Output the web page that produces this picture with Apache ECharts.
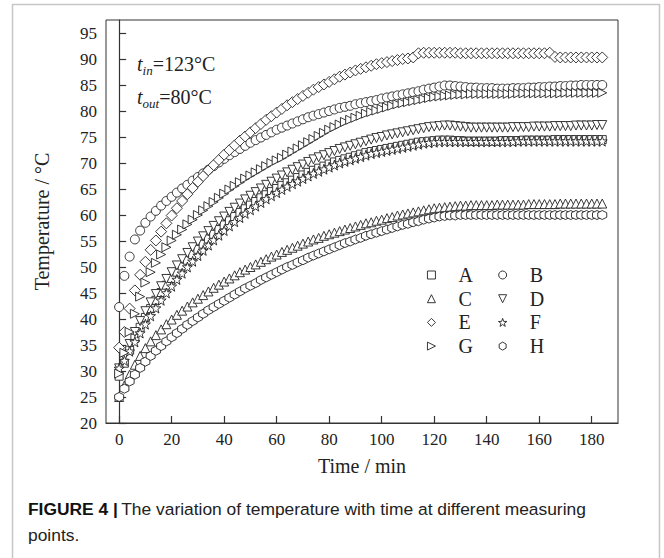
<!DOCTYPE html>
<html>
<head>
<meta charset="utf-8">
<script src="https://cdn.jsdelivr.net/npm/echarts@6/dist/echarts.min.js"></script>
<style>
  html, body { margin: 0; padding: 0; background: #fff; }
  #main { width: 664px; height: 558px; }
</style>
</head>
<body>
<div id="main"></div>
<script>
// sample times (min), one reading every 2 min
const minutes = [
  0, 2, 4, 6, 8, 10, 12, 14, 16, 18, 20, 22, 24, 26, 28, 30, 32, 34, 36, 38,
  40, 42, 44, 46, 48, 50, 52, 54, 56, 58, 60, 62, 64, 66, 68, 70, 72, 74, 76, 78,
  80, 82, 84, 86, 88, 90, 92, 94, 96, 98, 100, 102, 104, 106, 108, 110, 112, 114, 116, 118,
  120, 122, 124, 126, 128, 130, 132, 134, 136, 138, 140, 142, 144, 146, 148, 150, 152, 154, 156, 158,
  160, 162, 164, 166, 168, 170, 172, 174, 176, 178, 180, 182, 184,
];

// temperatures (°C) at the measuring points A..H
const pointA = [
  29.0, 31.5, 34.0, 36.3, 38.4, 40.3, 42.0, 43.6, 45.1, 46.5,
  47.8, 49.0, 50.2, 51.3, 52.4, 53.4, 54.4, 55.4, 56.3, 57.2,
  58.1, 58.9, 59.7, 60.5, 61.2, 61.9, 62.6, 63.3, 63.9, 64.5,
  65.1, 65.7, 66.2, 66.7, 67.2, 67.7, 68.2, 68.6, 69.0, 69.4,
  69.8, 70.2, 70.5, 70.8, 71.1, 71.4, 71.7, 72.0, 72.2, 72.4,
  72.6, 72.8, 73.0, 73.2, 73.4, 73.6, 73.8, 74.0, 74.1, 74.2,
  74.3, 74.4, 74.4, 74.4, 74.3, 74.3, 74.2, 74.2, 74.2, 74.2,
  74.2, 74.2, 74.2, 74.3, 74.3, 74.3, 74.3, 74.4, 74.4, 74.4,
  74.4, 74.4, 74.4, 74.5, 74.5, 74.5, 74.5, 74.5, 74.5, 74.5,
  74.5, 74.5, 74.5,
];
const pointB = [
  42.3, 48.3, 52.0, 55.3, 57.0, 58.5, 59.7, 60.8, 61.8, 62.7,
  63.5, 64.3, 65.1, 65.8, 66.6, 67.3, 68.0, 68.7, 69.4, 70.1,
  70.8, 71.5, 72.1, 72.7, 73.3, 73.9, 74.4, 74.9, 75.4, 75.9,
  76.4, 76.8, 77.2, 77.6, 78.0, 78.4, 78.8, 79.1, 79.4, 79.7,
  80.0, 80.3, 80.6, 80.8, 81.0, 81.3, 81.5, 81.7, 81.9, 82.1,
  82.4, 82.6, 82.8, 83.0, 83.2, 83.4, 83.6, 83.8, 84.1, 84.3,
  84.5, 84.7, 84.9, 84.9, 84.8, 84.7, 84.6, 84.5, 84.5, 84.4,
  84.4, 84.4, 84.3, 84.3, 84.3, 84.4, 84.4, 84.4, 84.5, 84.5,
  84.6, 84.6, 84.7, 84.7, 84.8, 84.8, 84.9, 84.9, 85.0, 85.0,
  85.0, 85.0, 85.0,
];
const pointC = [
  25.0, 27.2, 29.3, 31.2, 32.9, 34.4, 35.7, 36.9, 38.0, 39.0,
  39.9, 40.8, 41.6, 42.4, 43.2, 43.9, 44.6, 45.3, 46.0, 46.6,
  47.2, 47.8, 48.4, 49.0, 49.5, 50.0, 50.5, 51.0, 51.5, 52.0,
  52.4, 52.9, 53.3, 53.7, 54.1, 54.5, 54.9, 55.3, 55.6, 56.0,
  56.3, 56.6, 56.9, 57.2, 57.5, 57.8, 58.1, 58.4, 58.6, 58.9,
  59.1, 59.4, 59.6, 59.9, 60.1, 60.3, 60.5, 60.7, 60.9, 61.1,
  61.3, 61.4, 61.5, 61.6, 61.7, 61.8, 61.8, 61.9, 61.9, 61.9,
  61.9, 61.9, 62.0, 62.0, 62.0, 62.0, 62.0, 62.0, 62.1, 62.1,
  62.1, 62.1, 62.1, 62.1, 62.2, 62.2, 62.2, 62.2, 62.2, 62.2,
  62.2, 62.2, 62.2,
];
const pointD = [
  30.5, 32.8, 35.2, 37.5, 39.6, 41.5, 43.2, 44.8, 46.3, 47.7,
  49.0, 50.3, 51.5, 52.7, 53.8, 54.9, 55.9, 56.9, 57.9, 58.8,
  59.7, 60.6, 61.4, 62.2, 63.0, 63.7, 64.4, 65.1, 65.8, 66.4,
  67.0, 67.6, 68.2, 68.7, 69.2, 69.7, 70.2, 70.7, 71.1, 71.5,
  71.9, 72.3, 72.7, 73.0, 73.3, 73.6, 73.9, 74.2, 74.5, 74.8,
  75.0, 75.3, 75.5, 75.7, 75.9, 76.1, 76.3, 76.5, 76.7, 76.9,
  77.0, 77.1, 77.2, 77.2, 77.1, 77.0, 76.9, 76.8, 76.8, 76.8,
  76.8, 76.8, 76.8, 76.8, 76.8, 76.9, 76.9, 76.9, 76.9, 77.0,
  77.0, 77.0, 77.0, 77.1, 77.1, 77.1, 77.1, 77.2, 77.2, 77.2,
  77.2, 77.3, 77.3,
];
const pointE = [
  34.5, 37.5, 42.0, 45.5, 48.5, 51.0, 53.3, 55.1, 56.8, 58.4,
  59.9, 61.3, 62.7, 64.0, 65.2, 66.4, 67.5, 68.6, 69.6, 70.6,
  71.6, 72.5, 73.4, 74.3, 75.1, 75.9, 76.7, 77.5, 78.3, 79.0,
  79.7, 80.4, 81.1, 81.7, 82.3, 82.9, 83.5, 84.1, 84.6, 85.1,
  85.6, 86.1, 86.6, 87.0, 87.4, 87.8, 88.1, 88.4, 88.7, 89.0,
  89.2, 89.4, 89.6, 89.8, 90.0, 90.1, 90.3, 91.1, 91.2, 91.2,
  91.2, 91.2, 91.2, 91.2, 91.2, 91.1, 91.1, 91.1, 91.1, 91.1,
  91.1, 91.1, 91.1, 91.1, 91.1, 91.1, 91.1, 91.1, 91.1, 91.1,
  91.1, 91.1, 91.2, 90.4, 90.3, 90.3, 90.3, 90.3, 90.3, 90.3,
  90.3, 90.3, 90.3,
];
const pointF = [
  30.5, 32.0, 33.8, 35.6, 37.3, 39.0, 40.6, 42.1, 43.6, 45.0,
  46.3, 47.6, 48.8, 50.0, 51.1, 52.2, 53.2, 54.2, 55.2, 56.1,
  57.0, 57.9, 58.7, 59.5, 60.3, 61.0, 61.7, 62.4, 63.1, 63.7,
  64.3, 64.9, 65.5, 66.0, 66.5, 67.0, 67.5, 68.0, 68.4, 68.8,
  69.2, 69.6, 70.0, 70.3, 70.6, 70.9, 71.2, 71.5, 71.8, 72.0,
  72.2, 72.4, 72.6, 72.8, 73.0, 73.2, 73.4, 73.6, 73.8, 73.9,
  74.0, 74.1, 74.1, 74.1, 74.1, 74.1, 74.1, 74.1, 74.1, 74.1,
  74.1, 74.1, 74.1, 74.1, 74.1, 74.1, 74.2, 74.2, 74.2, 74.2,
  74.2, 74.2, 74.2, 74.2, 74.2, 74.2, 74.2, 74.2, 74.2, 74.2,
  74.2, 74.2, 74.2,
];
const pointG = [
  29.5, 33.5, 37.5, 41.0, 44.3, 47.0, 49.0, 50.8, 52.4, 53.8,
  55.1, 56.2, 57.2, 58.2, 59.1, 60.0, 60.9, 61.7, 62.5, 63.3,
  64.1, 64.9, 65.6, 66.3, 67.0, 67.6, 68.2, 68.8, 69.4, 70.0,
  70.5, 71.0, 71.6, 72.2, 72.8, 73.4, 74.0, 74.6, 75.2, 75.8,
  76.4, 76.9, 77.4, 77.9, 78.3, 78.7, 79.1, 79.5, 79.8, 80.1,
  80.4, 80.7, 81.0, 81.3, 81.5, 81.7, 81.9, 82.1, 82.3, 82.5,
  82.7, 82.8, 82.9, 83.0, 83.1, 83.2, 83.2, 83.3, 83.3, 83.3,
  83.3, 83.3, 83.3, 83.3, 83.3, 83.3, 83.4, 83.4, 83.4, 83.4,
  83.4, 83.4, 83.4, 83.4, 83.4, 83.5, 83.5, 83.5, 83.5, 83.5,
  83.5, 83.5, 83.5,
];
const pointH = [
  25.0, 26.6, 28.0, 29.3, 30.6, 31.8, 32.9, 33.9, 34.8, 35.7,
  36.5, 37.3, 38.1, 38.9, 39.6, 40.3, 41.0, 41.7, 42.3, 42.9,
  43.5, 44.1, 44.7, 45.3, 45.9, 46.4, 46.9, 47.5, 48.0, 48.5,
  49.0, 49.5, 50.0, 50.4, 50.9, 51.3, 51.8, 52.2, 52.6, 53.0,
  53.4, 53.8, 54.2, 54.6, 54.9, 55.3, 55.6, 56.0, 56.3, 56.6,
  56.9, 57.2, 57.5, 57.8, 58.1, 58.3, 58.6, 58.8, 59.1, 59.3,
  59.5, 59.7, 59.8, 59.9, 59.9, 60.0, 60.0, 60.0, 60.0, 60.0,
  60.0, 60.0, 60.0, 60.0, 60.0, 60.0, 60.0, 60.0, 60.0, 60.0,
  60.0, 60.0, 60.0, 60.0, 60.0, 60.0, 60.0, 60.0, 60.0, 60.0,
  60.0, 60.0, 60.0,
];

const xTicks = [0, 20, 40, 60, 80, 100, 120, 140, 160, 180];
const yTicks = [20, 25, 30, 35, 40, 45, 50, 55, 60, 65, 70, 75, 80, 85, 90, 95];

const serif = 'Liberation Serif';
const sans = 'Liberation Sans';
const ink = '#222';

// all markers as paths so the legend keeps them square
const square = 'path://M0,0 L10,0 L10,10 L0,10 Z';
const upTri = 'path://M5,0 L10,10 L0,10 Z';
const downTri = 'path://M0,0 L10,0 L5,10 Z';
const diamond = 'path://M5,0 L10,5 L5,10 L0,5 Z';
const rightTri = 'path://M0,0 L10,5 L0,10 Z';
const star = 'path://M50,0 L61.76,33.82 L97.55,34.55 L69.02,56.18 L79.39,90.45 L50,70 L20.61,90.45 L30.98,56.18 L2.45,34.55 L38.24,33.82 Z';
const hexagon = 'path://M50,0 L93.3,25 L93.3,75 L50,100 L6.7,75 L6.7,25 Z';

// name, values, symbol, symbol size
const points = [
  ['A', pointA, square, 8],
  ['B', pointB, 'circle', 9],
  ['C', pointC, upTri, 9],
  ['D', pointD, downTri, 9],
  ['E', pointE, diamond, 11],
  ['F', pointF, star, 10],
  ['G', pointG, rightTri, 9],
  ['H', pointH, hexagon, 9],
];

const chart = echarts.init(document.getElementById('main'), null, { renderer: 'svg' });

const legendBase = {
  orient: 'vertical',
  top: 265,
  padding: 0,
  itemWidth: 44,
  itemHeight: 8,
  itemGap: 3.7,
  selectedMode: false,
  itemStyle: { color: '#fff', borderColor: ink, borderWidth: 0.9 },
  textStyle: { fontFamily: serif, fontSize: 20, color: ink, lineHeight: 20 },
};

const subText = (main, sub, rest) => ({
  text: `{t|${main}}{s|${sub}}{n|${rest}}`,
  rich: {
    t: { fontFamily: serif, fontStyle: 'italic', fontSize: 20, lineHeight: 26, fill: ink },
    s: { fontFamily: serif, fontStyle: 'italic', fontSize: 13, lineHeight: 13, verticalAlign: 'bottom', fill: ink },
    n: { fontFamily: serif, fontSize: 20, lineHeight: 26, fill: ink },
  },
});

const tickLabel = (margin, ticks) => ({
  margin,
  customValues: ticks,
  formatter: '{v|{value}}',
  rich: { v: { fontFamily: serif, fontSize: 17, color: ink } },
});

chart.setOption({
  animation: false,
  backgroundColor: '#fff',
  textStyle: { fontFamily: serif, color: ink },
  grid: {
    left: 106, top: 20, width: 512, height: 403,
    show: true, borderColor: '#333', borderWidth: 1, backgroundColor: 'transparent',
  },
  xAxis: {
    type: 'value', min: -5, max: 190,
    name: 'Time / min', nameLocation: 'middle', nameGap: 33,
    nameTextStyle: { fontFamily: serif, fontSize: 20, color: ink },
    axisLine: { onZero: false, lineStyle: { color: '#333', width: 1.2 } },
    axisTick: { inside: true, length: 7, customValues: xTicks, lineStyle: { color: '#333', width: 1.2 } },
    axisLabel: tickLabel(8, xTicks),
    splitLine: { show: false },
  },
  yAxis: {
    type: 'value', min: 20, max: 97.5,
    name: 'Temperature / °C', nameLocation: 'middle', nameGap: 54,
    nameTextStyle: { fontFamily: serif, fontSize: 20, color: ink },
    axisLine: { lineStyle: { color: '#333', width: 1.2 } },
    axisTick: { inside: true, length: 7, customValues: yTicks, lineStyle: { color: '#333', width: 1.2 } },
    axisLabel: tickLabel(9, yTicks),
    splitLine: { show: false },
  },
  legend: [
    { ...legendBase, left: 427, data: ['A', 'C', 'E', 'G'] },
    { ...legendBase, left: 498, data: ['B', 'D', 'F', 'H'] },
  ],
  series: points.map(([name, values, symbol, size]) => ({
    type: 'scatter',
    name,
    symbol,
    symbolSize: size,
    data: minutes.map((t, i) => [t, values[i]]),
    itemStyle: { color: '#fff', borderColor: ink, borderWidth: 0.9, opacity: 1 },
    emphasis: { disabled: true },
  })),
  graphic: [
    {
      type: 'rect', silent: true, z: -10,
      shape: { x: 12.5, y: 4.5, width: 647, height: 620 },
      style: { fill: 'none', stroke: '#c6c6c6', lineWidth: 1.5 },
    },
    { type: 'text', left: 137, top: 54, style: subText('t', 'in', '=123°C') },
    { type: 'text', left: 137, top: 87, style: subText('t', 'out', '=80°C') },
    {
      type: 'text', left: 28, top: 500,
      style: {
        text: '{b|FIGURE 4 |} {r|The variation of temperature with time at different measuring}\n{r|points.}',
        rich: {
          b: { fontFamily: sans, fontWeight: 'bold', fontSize: 17.4, lineHeight: 26, fill: '#111' },
          r: { fontFamily: sans, fontSize: 17.4, lineHeight: 26, fill: '#222' },
        },
      },
    },
  ],
});
</script>
</body>
</html>
